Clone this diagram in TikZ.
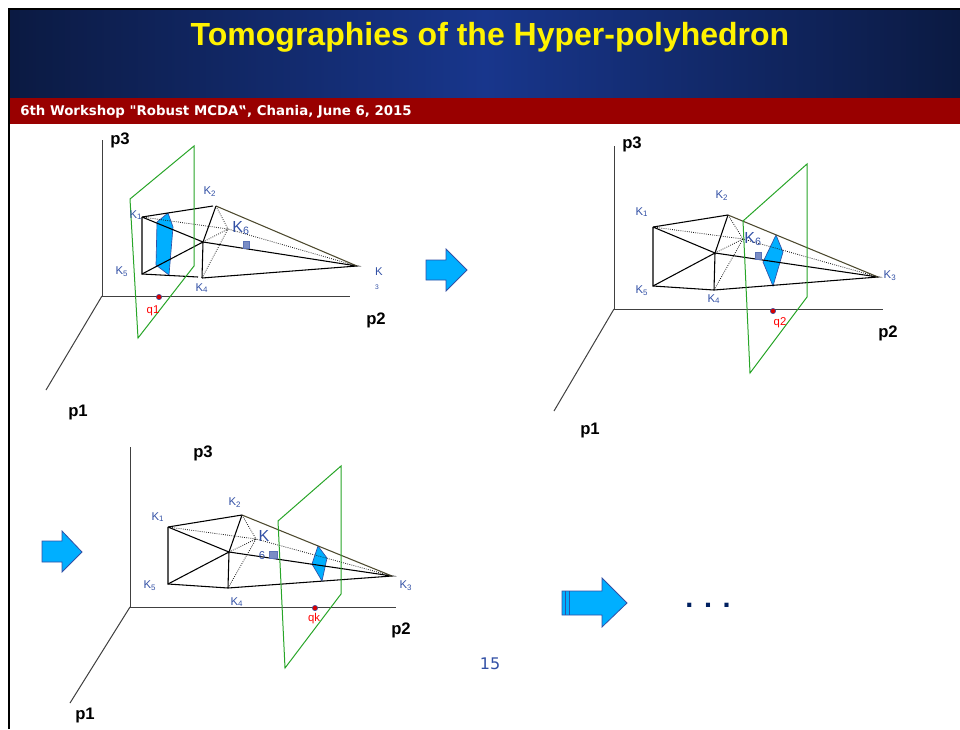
\documentclass[tikz,border=0pt]{standalone}
\usepackage{fontspec}
\setmainfont{Liberation Sans}
\newfontfamily\verdanafont{DejaVu Sans}
\usepackage{xcolor}
\usepackage{tikz}
\usetikzlibrary{arrows.meta, positioning, calc}
\definecolor{hdrDark}{RGB}{11,26,66}
\definecolor{hdrBlue}{RGB}{24,54,140}
\definecolor{hdrRed}{RGB}{153,0,0}
\definecolor{labelBlue}{RGB}{50,80,165}
\definecolor{sliceBlue}{RGB}{0,175,255}
\definecolor{planeGreen}{RGB}{40,165,40}
\definecolor{dotNavy}{RGB}{0,32,96}

\begin{document}
\begin{tikzpicture}[
  x=0.75pt, y=-0.75pt,
  axis/.style={draw=black!75, line width=0.75pt},
  edge/.style={draw=black, line width=0.8pt},
  backedge/.style={draw=black!90, line width=0.6pt, densely dotted},
  topedge/.style={draw=black!60!olive, line width=0.8pt},
  plane/.style={draw=planeGreen, line width=0.75pt},
  slice/.style={draw=labelBlue, fill=sliceBlue, line width=0.5pt},
  marker/.style={draw=labelBlue!80, fill=labelBlue!65, minimum width=4.5pt, minimum height=5pt, inner sep=0pt},
  qdot/.style={circle, draw=labelBlue, fill=red!85!black, minimum size=4pt, inner sep=0pt},
  klabel/.style={font=\fontsize{8.5}{8.5}\selectfont, text=labelBlue, inner sep=0pt},
  sixlabel/.style={font=\fontsize{12}{12}\selectfont, text=labelBlue, inner sep=0pt},
  qlabel/.style={font=\fontsize{8.5}{9}\selectfont, text=red, inner sep=0pt},
  plabel/.style={font=\fontsize{12.5}{13}\selectfont\bfseries, inner sep=0pt},
  bigarrow/.style={draw=labelBlue, fill=sliceBlue, line width=0.6pt, line join=miter}
]
  \useasboundingbox (0,0) rectangle (960,729);

  % header
  \fill[left color=hdrDark, right color=hdrDark, middle color=hdrBlue] (10,10) rectangle (960,98);
  \fill[hdrRed] (10,98) rectangle (960,124);
  \draw[black, line width=1.4pt] (9,729) -- (9,9) -- (960,9);
  \node[font=\fontsize{24}{24}\selectfont\bfseries, text=yellow, inner sep=0pt] (title) at (490,37.5) {Tomographies of the Hyper-polyhedron};
  \node[font=\verdanafont\fontsize{10}{10}\selectfont\bfseries, text=white, anchor=west, inner sep=0pt] (workshop) at (20,112) {6th Workshop "Robust MCDA‟, Chania, June 6, 2015};

  % first tomography
  \coordinate (ao) at (102,296);
  \coordinate (az) at (102,140);
  \coordinate (ay) at (350,296);
  \coordinate (ax) at (46,390);
  \draw[axis] (az) -- (ao) -- (ay);
  \draw[axis] (ao) -- (ax);
  \coordinate (ka1) at (142,217);
  \coordinate (ka2) at (213,206);
  \coordinate (kat) at (216,206);
  \coordinate (ka3) at (357,266);
  \coordinate (ka4) at (202,278);
  \coordinate (kab) at (198,277);
  \coordinate (ka5) at (142,274);
  \coordinate (kac) at (203,242);
  \coordinate (ka6) at (228,229);
  \draw[slice] (168,213) -- (173,227) -- (169,275) -- (156,265) -- (157,222) -- cycle;
  \draw[edge] (ka1) -- (ka2) (ka1) -- (ka5) -- (kab) (ka4) -- (ka3) -- (kac) -- (ka1);
  \draw[edge] (ka5) -- (kac) -- (kat) (kac) -- (ka4);
  \draw[topedge] (kat) -- (ka3);
  \draw[backedge] (ka1) -- (ka6) -- (ka3) (kat) -- (ka6) (ka4) -- (ka6) (kac) -- (ka6);
  \draw[plane] (130,199) -- (194,146) -- (194,266) -- (138,338) -- cycle;
  \node[marker] (ma) at (246,245) {};
  \node[qdot] (qa) at (159,297) {};
  \node[qlabel] (qal) at (153,311) {q1};
  \node[klabel] (la1) at (136,215) {K\textsubscript{1}};
  \node[klabel] (la2) at (210,192) {K\textsubscript{2}};
  \node[klabel] (la3) at (379,272) {K};
  \node[klabel, font=\fontsize{5}{5}\selectfont] (la3b) at (377,287) {3};
  \node[klabel] (la4) at (202,288) {K\textsubscript{4}};
  \node[klabel] (la5) at (122,272) {K\textsubscript{5}};
  \node[sixlabel] (la6) at (241,228) {K\textsubscript{6}};
  \node[plabel] (pa3) at (120,140) {p3};
  \node[plabel] (pa2) at (376,320) {p2};
  \node[plabel] (pa1) at (78,412) {p1};

  % second tomography
  \coordinate (bo) at (614,309);
  \coordinate (bz) at (614,146);
  \coordinate (by) at (883,309);
  \coordinate (bx) at (554,411);
  \draw[axis] (bz) -- (bo) -- (by);
  \draw[axis] (bo) -- (bx);
  \coordinate (kb1) at (653,227);
  \coordinate (kb2) at (728,215);
  \coordinate (kb3) at (878,277);
  \coordinate (kb4) at (714,290);
  \coordinate (kb5) at (653,286);
  \coordinate (kbc) at (715,253);
  \coordinate (kb6) at (743,239);
  \draw[slice] (776,235) -- (783,252) -- (773,286) -- (763,262) -- cycle;
  \draw[edge] (kb1) -- (kb2) (kb1) -- (kb5) -- (kb4) -- (kb3) -- (kbc) -- (kb1);
  \draw[edge] (kb5) -- (kbc) -- (kb2) (kbc) -- (kb4);
  \draw[topedge] (kb2) -- (kb3);
  \draw[backedge] (kb1) -- (kb6) -- (kb3) (kb2) -- (kb6) (kb4) -- (kb6) (kbc) -- (kb6);
  \draw[plane] (743,221) -- (807,164) -- (807,297) -- (750,373) -- cycle;
  \node[marker] (mb) at (758,255.5) {};
  \node[qdot] (qb) at (773,311) {};
  \node[qlabel] (qbl) at (780,323) {q2};
  \node[klabel] (lb1) at (642,212) {K\textsubscript{1}};
  \node[klabel] (lb2) at (722,196) {K\textsubscript{2}};
  \node[klabel] (lb3) at (890,276) {K\textsubscript{3}};
  \node[klabel] (lb4) at (714,299) {K\textsubscript{4}};
  \node[klabel] (lb5) at (642,291) {K\textsubscript{5}};
  \node[sixlabel] (lb6) at (753,239) {K\textsubscript{6}};
  \node[plabel] (pb3) at (632,144) {p3};
  \node[plabel] (pb2) at (888,333) {p2};
  \node[plabel] (pb1) at (590,430) {p1};

  % last tomography
  \coordinate (co) at (130,607);
  \coordinate (cz) at (130,447);
  \coordinate (cy) at (396,607);
  \coordinate (cx) at (70,703);
  \draw[axis] (cz) -- (co) -- (cy);
  \draw[axis] (co) -- (cx);
  \coordinate (kc1) at (168,527);
  \coordinate (kc2) at (242,515);
  \coordinate (kc3) at (392,576);
  \coordinate (kc4) at (228,588);
  \coordinate (kc5) at (168,584);
  \coordinate (kcc) at (229,552);
  \coordinate (kc6) at (256,539);
  \draw[slice] (318,546) -- (327,558) -- (322,581) -- (312,564) -- cycle;
  \draw[edge] (kc1) -- (kc2) (kc1) -- (kc5) -- (kc4) -- (kc3) -- (kcc) -- (kc1);
  \draw[edge] (kc5) -- (kcc) -- (kc2) (kcc) -- (kc4);
  \draw[topedge] (kc2) -- (kc3);
  \draw[backedge] (kc1) -- (kc6) -- (kc3) (kc2) -- (kc6) (kc4) -- (kc6) (kcc) -- (kc6);
  \draw[plane] (278,521) -- (341,466) -- (341,594) -- (285,668) -- cycle;
  \node[marker, minimum width=6pt] (mc) at (273,554.5) {};
  \node[qdot] (qc) at (315,608) {};
  \node[qlabel] (qcl) at (314,619) {qk};
  \node[klabel] (lc1) at (158,517) {K\textsubscript{1}};
  \node[klabel] (lc2) at (235,503) {K\textsubscript{2}};
  \node[klabel] (lc3) at (406,586) {K\textsubscript{3}};
  \node[klabel] (lc4) at (237,602) {K\textsubscript{4}};
  \node[klabel] (lc5) at (150,586) {K\textsubscript{5}};
  \node[sixlabel] (lc6) at (264,536) {K};
  \node[klabel] (lc6b) at (262,556) {6};
  \node[plabel] (pc3) at (203,453) {p3};
  \node[plabel] (pc2) at (401,630) {p2};
  \node[plabel] (pc1) at (85,715) {p1};

  % arrows between the steps
  \draw[bigarrow] (426,260) -- (446,260) -- (446,249) -- (467,270) -- (446,291) -- (446,280) -- (426,280) -- cycle;
  \draw[bigarrow] (42,541) -- (62,541) -- (62,531) -- (82,552) -- (62,572) -- (62,562) -- (42,562) -- cycle;
  \draw[bigarrow] (562,591) -- (602,591) -- (602,578) -- (627,603) -- (602,627) -- (602,615) -- (562,615) -- cycle;
  \draw[labelBlue, line width=0.6pt] (565,591) -- (565,615) (569,591) -- (569,615);

  \node[font=\fontsize{21.6}{22}\selectfont\bfseries, text=dotNavy, inner sep=0pt] (dots) at (708,605) {. . .};
  \node[font=\verdanafont\fontsize{12}{12}\selectfont, text=labelBlue, inner sep=0pt] (pagenum) at (490,664) {15};
\end{tikzpicture}
\end{document}
